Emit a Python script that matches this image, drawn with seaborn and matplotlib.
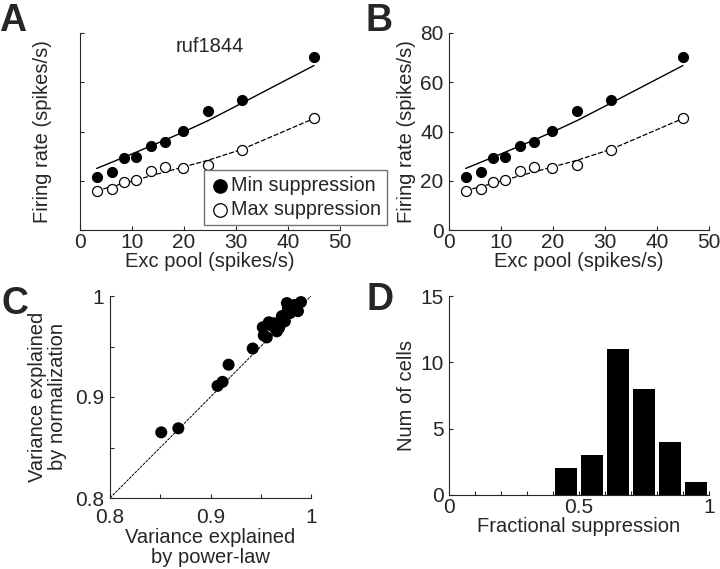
import numpy as np
import pandas as pd
import seaborn as sns
from matplotlib import pyplot as plt

# panels A / B: one example cell (ruf1844)
exc_pool = [3.2, 6.1, 8.5, 10.8, 13.6, 16.4, 19.9, 24.6, 31.2, 45.0]
rate_min_supp = [21.6, 23.5, 29.2, 29.6, 34.2, 35.9, 40.1, 48.2, 52.7, 70.3]
rate_max_supp = [15.7, 16.5, 19.3, 20.5, 23.8, 25.5, 25.3, 26.5, 32.3, 45.5]
fit_min_supp = [25.0, 27.5, 29.6, 31.6, 34.1, 36.6, 39.8, 44.4, 51.6, 66.8]
fit_max_supp = [16.0, 17.6, 19.0, 20.3, 22.0, 23.6, 25.6, 28.3, 32.8, 45.3]

# panel C: variance explained, power-law vs normalization
var_powerlaw = [0.851, 0.868, 0.907, 0.912, 0.918, 0.942, 0.952, 0.953, 0.956, 0.958,
                0.962, 0.966, 0.969, 0.971, 0.974, 0.976, 0.979, 0.982, 0.984, 0.986,
                0.990, 0.983, 0.977, 0.972, 0.968, 0.963, 0.987, 0.980, 0.975]
var_normalization = [0.865, 0.869, 0.911, 0.915, 0.932, 0.948, 0.969, 0.961, 0.959, 0.974,
                     0.970, 0.965, 0.971, 0.980, 0.975, 0.993, 0.983, 0.989, 0.986, 0.991,
                     0.994, 0.991, 0.988, 0.978, 0.968, 0.973, 0.985, 0.990, 0.982]

# panel D: histogram of fractional suppression
frac_bin_centers = [0.45, 0.55, 0.65, 0.75, 0.85, 0.95]
num_cells = [2, 3, 11, 8, 4, 1]

sns.set_style("ticks")
plt.rcParams['font.family'] = ['Liberation Sans', 'DejaVu Sans']
plt.rcParams['font.size'] = 14
plt.rcParams['axes.linewidth'] = 0.8
plt.rcParams['xtick.direction'] = 'in'
plt.rcParams['ytick.direction'] = 'in'
plt.rcParams['xtick.major.size'] = 3
plt.rcParams['ytick.major.size'] = 3
plt.rcParams['xtick.major.width'] = 0.8
plt.rcParams['ytick.major.width'] = 0.8
plt.rcParams['xtick.major.pad'] = 2
plt.rcParams['ytick.major.pad'] = 4
plt.rcParams['xtick.labelsize'] = 15
plt.rcParams['ytick.labelsize'] = 15

LBL = 14.5

W, H = 720, 569
fig = plt.figure(figsize=(W / 100, H / 100), dpi=100)


def box(l, t, r, b):
    return [l / W, 1 - b / H, (r - l) / W, (b - t) / H]


axA = fig.add_axes(box(80, 33, 340, 230))
axB = fig.add_axes(box(449, 33, 709, 230))
axC = fig.add_axes(box(110, 296, 311, 498))
axD = fig.add_axes(box(449, 296, 709, 495))

df = pd.DataFrame({"exc": exc_pool, "rmin": rate_min_supp, "rmax": rate_max_supp,
                   "fmin": fit_min_supp, "fmax": fit_max_supp})

for ax in (axA, axB):
    sns.lineplot(data=df, x="exc", y="fmin", ax=ax, color="k", lw=1)
    sns.lineplot(data=df, x="exc", y="fmax", ax=ax, color="k", lw=0.9, ls=(0, (4, 1.5)))
    sns.scatterplot(data=df, x="exc", y="rmin", ax=ax, color="k", s=52,
                    edgecolor="k", linewidth=0.8, label="Min suppression", zorder=3)
    sns.scatterplot(data=df, x="exc", y="rmax", ax=ax, color="white", s=52,
                    edgecolor="k", linewidth=0.9, label="Max suppression", zorder=3)
    ax.set_xlim(0, 50)
    ax.set_ylim(0, 80)
    ax.set_xticks([0, 10, 20, 30, 40, 50])
    ax.set_yticks([0, 20, 40, 60, 80])
    ax.set_xlabel("Exc pool (spikes/s)", fontsize=LBL, labelpad=0)
    ax.set_ylabel("Firing rate (spikes/s)", fontsize=LBL, labelpad=3)
    sns.despine(ax=ax)

axA.set_yticklabels([])
axA.set_ylabel("Firing rate (spikes/s)", fontsize=LBL, labelpad=16)
axA.text(0.5, 0.93, "ruf1844", transform=axA.transAxes, ha="center", va="center", fontsize=LBL)
leg = axA.legend(loc="lower left", bbox_to_anchor=(0.475, 0.025), frameon=True,
                 fancybox=False, edgecolor="0.45", framealpha=1, fontsize=14.2,
                 handletextpad=0.0, borderpad=0.3, labelspacing=0.25,
                 handlelength=1.1, borderaxespad=0, markerscale=1.35)
leg.get_frame().set_linewidth(1.0)
leg.set_clip_on(False)
axB.get_legend().remove()

# panel C
axC.plot([0.8, 1], [0.8, 1], color="k", lw=0.7, ls=(0, (3, 1)))
sns.scatterplot(x=var_powerlaw, y=var_normalization, ax=axC, color="k", s=75,
                edgecolor="none", zorder=3)
axC.set_xlim(0.8, 1)
axC.set_ylim(0.8, 1)
axC.set_xticks([0.8, 0.85, 0.9, 0.95, 1.0])
axC.set_xticklabels(["0.8", "", "0.9", "", "1"])
axC.set_yticks([0.8, 0.85, 0.9, 0.95, 1.0])
axC.set_yticklabels(["0.8", "", "0.9", "", "1"])
axC.tick_params(axis="x", pad=7)
axC.set_xlabel("Variance explained\nby power-law", fontsize=LBL, labelpad=1, linespacing=1.05)
axC.set_ylabel("Variance explained\nby normalization", fontsize=LBL, labelpad=6, linespacing=1.05)
sns.despine(ax=axC)

# panel D
hist_df = pd.DataFrame({"frac": frac_bin_centers, "n": num_cells})
sns.barplot(data=hist_df, x="frac", y="n", native_scale=True, width=0.83,
            ax=axD, color="k", saturation=1, edgecolor="none")
axD.set_xlim(0, 1)
axD.set_ylim(0, 15)
axD.set_xticks(np.arange(0, 1.05, 0.1))
axD.set_xticklabels(["0", "", "", "", "", "0.5", "", "", "", "", "1"])
axD.set_yticks([0, 5, 10, 15])
axD.set_xlabel("Fractional suppression", fontsize=LBL, labelpad=0)
axD.set_ylabel("Num of cells", fontsize=LBL, labelpad=3)
sns.despine(ax=axD)

for lbl, (x, y) in zip("ABCD", [(13, 21), (379, 21), (15, 304), (380, 300)]):
    fig.text(x / W, 1 - y / H, lbl, fontsize=27, fontweight="bold", ha="center", va="center")

fig.savefig("out.png", dpi=100)
